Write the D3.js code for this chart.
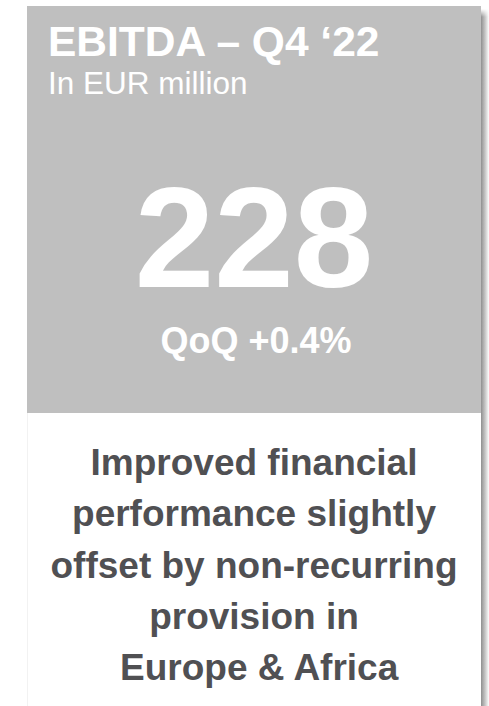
<!DOCTYPE html>
<html><head><meta charset="utf-8">
<script src="https://cdn.jsdelivr.net/npm/d3@7"></script>
<style>html,body{margin:0;padding:0;background:#fff;overflow:hidden}</style>
</head><body>
<svg id="c" width="489" height="706"></svg>
<script>
const titleText = "EBITDA – Q4 ‘22";
const subtitleText = "In EUR million";
const kpiValue = [228];
const kpiChangePct = [0.4];
const changeLabel = "QoQ";
const descriptionLines = ["Improved financial", "performance slightly", "offset by non-recurring", "provision in", " Europe & Africa"];

const svg = d3.select("#c");
const W = 489, H = 706;
const card = {x0: 27, x1: 481, y0: 6, split: 413};
const font = "'Liberation Sans', Arial, sans-serif";

const defs = svg.append("defs");
const g = defs.append("linearGradient").attr("id","sh").attr("x1","0").attr("x2","1");
g.append("stop").attr("offset","0").attr("stop-color","#8f8f8f");
g.append("stop").attr("offset","0.5").attr("stop-color","#c4c4c4");
g.append("stop").attr("offset","1").attr("stop-color","#ffffff");
const gt = defs.append("linearGradient").attr("id","sht").attr("x1","0").attr("x2","0").attr("y1","0").attr("y2","1");
gt.append("stop").attr("offset","0").attr("stop-color","#fff").attr("stop-opacity",1);
gt.append("stop").attr("offset","1").attr("stop-color","#fff").attr("stop-opacity",0);

// shadow strip on right
svg.append("rect").attr("x", card.x1).attr("y", card.y0 + 3).attr("width", 8).attr("height", H)
  .attr("fill", "url(#sh)");
svg.append("rect").attr("x", card.x1).attr("y", card.y0 + 3).attr("width", 8).attr("height", 8)
  .attr("fill", "url(#sht)");

// gray panel
svg.append("rect").attr("x", card.x0).attr("y", card.y0).attr("width", card.x1 - card.x0)
  .attr("height", card.split - card.y0).attr("fill", "#bfbfbf");
// white panel with faint left edge
svg.append("rect").attr("x", card.x0).attr("y", card.split).attr("width", card.x1 - card.x0)
  .attr("height", H - card.split).attr("fill", "#ffffff");
svg.append("line").attr("x1", card.x0 + 0.5).attr("x2", card.x0 + 0.5).attr("y1", card.split).attr("y2", H)
  .attr("stroke", "#f2f2f2");

svg.append("text").attr("x", 48).attr("y", 56).attr("fill", "#fff")
  .style("font", `bold 42.5px ${font}`).text(titleText);
svg.append("text").attr("x", 48).attr("y", 94).attr("fill", "#fff")
  .style("font", `31.5px ${font}`).text(subtitleText);

const cx = 254;
svg.selectAll("text.kpi").data(kpiValue).join("text").attr("class","kpi")
  .attr("x", cx).attr("y", 287).attr("text-anchor","middle").attr("fill","#fff")
  .style("font", `bold 143px ${font}`).text(d => d3.format("d")(d));
svg.selectAll("text.chg").data(kpiChangePct).join("text").attr("class","chg")
  .attr("x", 256).attr("y", 353).attr("text-anchor","middle").attr("fill","#fff")
  .style("font", `bold 36px ${font}`).text(d => `${changeLabel} ${d3.format("+.1f")(d)}%`);

const y = d3.scalePoint().domain(d3.range(descriptionLines.length)).range([475, 680]);
svg.selectAll("text.desc").data(descriptionLines).join("text").attr("class","desc")
  .attr("x", cx).attr("y", (d,i) => y(i)).attr("text-anchor","middle").attr("fill","#505053")
  .style("white-space", "pre")
  .style("font", `bold 37px ${font}`).text(d => d);
</script>
</body></html>
